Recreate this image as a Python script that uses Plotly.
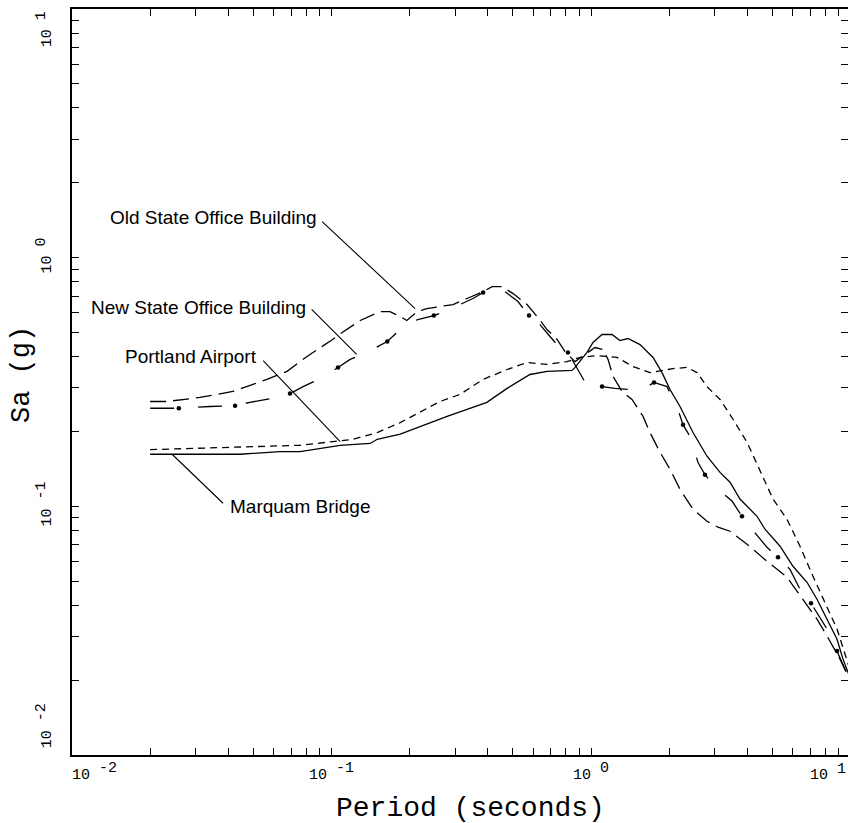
import numpy as np
import plotly.graph_objects as go

# ---------------- data ----------------
marquam_period = [0.020, 0.0444, 0.0633, 0.0756, 0.108, 0.141, 0.150, 0.184, 0.279, 0.333, 0.397, 0.475,
                  0.582, 0.677, 0.845, 0.868, 0.965, 1.018, 1.103, 1.205, 1.293, 1.388, 1.545, 1.734,
                  1.878, 2.016, 2.203, 2.473, 2.799, 3.142, 3.433, 3.751, 4.362, 4.683, 5.350, 6.003,
                  6.798, 7.428, 8.118, 8.873, 9.357, 10.0]
marquam_sa = [0.162, 0.162, 0.166, 0.166, 0.176, 0.179, 0.186, 0.195, 0.230, 0.245, 0.262, 0.298,
              0.339, 0.349, 0.352, 0.362, 0.416, 0.456, 0.491, 0.491, 0.464, 0.473, 0.447, 0.397,
              0.345, 0.295, 0.252, 0.198, 0.159, 0.137, 0.125, 0.107, 0.0912, 0.0809, 0.0691, 0.0574,
              0.0495, 0.0423, 0.0352, 0.0292, 0.0243, 0.0202]

portland_period = [0.020, 0.0444, 0.0756, 0.101, 0.121, 0.150, 0.184, 0.201, 0.262, 0.313, 0.384, 0.475,
                   0.567, 0.677, 0.808, 0.907, 1.055, 1.259, 1.452, 1.688, 2.070, 2.344, 2.562, 2.799,
                   3.142, 3.525, 3.992, 4.362, 5.027, 5.692, 6.388, 7.169, 8.118, 8.873, 10.0]
portland_sa = [0.169, 0.173, 0.176, 0.182, 0.186, 0.198, 0.217, 0.228, 0.264, 0.282, 0.324, 0.355,
               0.379, 0.372, 0.382, 0.397, 0.404, 0.397, 0.365, 0.345, 0.358, 0.362, 0.345, 0.303,
               0.269, 0.224, 0.181, 0.148, 0.107, 0.0887, 0.0691, 0.0523, 0.0397, 0.0321, 0.0217]

old_state_period = [0.020, 0.0232, 0.0311, 0.0417, 0.0564, 0.0674, 0.0756, 0.0826, 0.101, 0.111, 0.129,
                    0.154, 0.168, 0.184, 0.195, 0.214, 0.233, 0.262, 0.294, 0.333, 0.384, 0.416, 0.454,
                    0.501, 0.567, 0.625, 0.677, 0.740, 0.794, 0.868, 0.948, 1.036, 1.112, 1.163, 1.216,
                    1.316, 1.439, 1.587, 1.688, 1.845, 2.016, 2.203, 2.473, 2.799, 3.086, 3.433, 3.992,
                    4.767, 5.692, 6.561, 7.428, 8.118, 9.111, 10.0]
old_state_sa = [0.264, 0.264, 0.274, 0.290, 0.324, 0.349, 0.382, 0.408, 0.469, 0.504, 0.559,
                0.607, 0.607, 0.580, 0.559, 0.607, 0.624, 0.636, 0.648, 0.685, 0.730, 0.765, 0.765,
                0.717, 0.648, 0.574, 0.514, 0.469, 0.419, 0.382, 0.408, 0.435, 0.427, 0.390, 0.333,
                0.290, 0.269, 0.230, 0.198, 0.165, 0.141, 0.117, 0.0973, 0.0871, 0.0824, 0.0794, 0.0704,
                0.0601, 0.0519, 0.0423, 0.0352, 0.0301, 0.0243, 0.0198]

new_state_period = [0.020, 0.0258, 0.0340, 0.0425, 0.0485, 0.0617, 0.0692, 0.0777, 0.0927, 0.106, 0.118,
                    0.137, 0.164, 0.184, 0.215, 0.248, 0.279, 0.313, 0.351, 0.384, 0.427, 0.466, 0.523,
                    0.577, 0.636, 0.695, 0.740, 0.815, 0.891, 0.974, 1.103, 1.237, 1.413, 1.545, 1.749,
                    1.963, 2.164, 2.262, 2.407, 2.585, 2.750, 3.005, 3.494, 3.818, 4.173, 4.767, 5.256,
                    5.846, 6.388, 7.043, 8.118, 8.873, 10.0]
new_state_sa = [0.248, 0.248, 0.252, 0.254, 0.262, 0.274, 0.284, 0.303, 0.330, 0.362, 0.390,
                0.416, 0.460, 0.514, 0.564, 0.585, 0.613, 0.648, 0.685, 0.724, 0.751, 0.730, 0.666,
                0.585, 0.538, 0.482, 0.447, 0.416, 0.355, 0.301, 0.303, 0.298, 0.295, 0.290, 0.315,
                0.303, 0.245, 0.213, 0.191, 0.150, 0.134, 0.120, 0.105, 0.0912, 0.0809, 0.0684, 0.0624,
                0.0558, 0.0464, 0.0408, 0.0321, 0.0262, 0.0198]
# dot symbols of the New State dash-dot curve
new_state_dot_period = [0.0258, 0.0425, 0.0692, 0.106, 0.164, 0.248, 0.384, 0.577, 0.815, 1.103,
                        1.749, 2.262, 2.750, 3.818, 5.256, 7.043, 8.873]
new_state_dot_sa = [0.248, 0.254, 0.284, 0.362, 0.460, 0.585, 0.724, 0.585, 0.416, 0.303,
                    0.315, 0.213, 0.134, 0.0912, 0.0624, 0.0408, 0.0262]

# label texts and the curve points their leaders touch
label_texts = ["Old State Office Building", "New State Office Building", "Portland Airport", "Marquam Bridge"]
leader_period = [0.210, 0.125, 0.108, 0.0243]
leader_sa = [0.624, 0.408, 0.182, 0.162]

x_decades = [-2, -1, 0]
y_decades = [-2, -1, 0]

# ---------------- layout constants ----------------
W, H = 848, 823
ML, MR, MT, MB = 72, 0, 9, 68
PX_PER_DECADE_X = 259.5
PX_PER_DECADE_Y = (H - MT - MB) / 3.0
x_hi = -2 + (W - ML - MR) / PX_PER_DECADE_X

LINE = dict(color="black", width=1.3)
TICKFONT = dict(family="Liberation Mono, DejaVu Sans Mono, monospace", size=15, color="black")
NB = "\u00a0"


def dec_label(n, pre=0, post=0):
    return NB * pre + "10" + NB + f"<sup><span style='font-size:15px'>{n}</span></sup>" + NB * post


fig = go.Figure()
fig.add_trace(go.Scatter(x=marquam_period, y=marquam_sa, mode="lines",
                         line=dict(LINE, dash="solid"), name="Marquam Bridge"))
fig.add_trace(go.Scatter(x=portland_period, y=portland_sa, mode="lines",
                         line=dict(LINE, dash="7px,5px"), name="Portland Airport"))
fig.add_trace(go.Scatter(x=old_state_period, y=old_state_sa, mode="lines",
                         line=dict(LINE, dash="16px,7px"), name="Old State Office Building"))
fig.add_trace(go.Scatter(x=new_state_period, y=new_state_sa, mode="lines",
                         line=dict(LINE, dash="24px,24px"), name="New State Office Building"))
fig.add_trace(go.Scatter(x=new_state_dot_period, y=new_state_dot_sa, mode="markers",
                         marker=dict(color="black", size=4.5), showlegend=False))

# ticks
x_tickvals, x_ticktext = [], []
for n in x_decades:
    for k in range(1, 10):
        x_tickvals.append(k * 10.0 ** n)
        if k == 1:
            x_ticktext.append(dec_label(n, pre=5 if n == -2 else 0))
        else:
            x_ticktext.append("")

y_tickvals, y_ticktext = [], []
for n in y_decades:
    for k in range(1, 10):
        y_tickvals.append(k * 10.0 ** n)
        if k == 1:
            y_ticktext.append(dec_label(n, pre=6 if n == -2 else 0))
        else:
            y_ticktext.append("")
y_tickvals.append(10.0)
y_ticktext.append(dec_label(1, post=5))

axis_common = dict(type="log", showgrid=False, zeroline=False, showline=True, linecolor="black",
                   linewidth=1.5, mirror="ticks", ticks="inside", ticklen=7, tickwidth=1.2,
                   tickcolor="black", tickfont=TICKFONT, tickmode="array", ticklabeloverflow="allow")

fig.update_xaxes(axis_common, range=[-2, x_hi], tickvals=x_tickvals, ticktext=x_ticktext,
                 ticklabelstandoff=4)
fig.update_yaxes(axis_common, range=[-2, 1], tickvals=y_tickvals, ticktext=y_ticktext,
                 tickangle=-90, ticklabelstandoff=13)

# leaders: pixel offsets (right, down) from the touched curve point to the label end
leader_dx = [-93, -45, -77, 51]
leader_dy = [-87, -45, -81, 49]
text_xshift = [-3, -4, -4, 5]
text_yshift = [4, 2, 4, -3]
text_anchor = ["right", "right", "right", "left"]
LABELFONT = dict(family="Liberation Sans, Arial, sans-serif", size=19, color="black")
for i, txt in enumerate(label_texts):
    end_period = leader_period[i] * 10 ** (leader_dx[i] / PX_PER_DECADE_X)
    end_sa = leader_sa[i] * 10 ** (-leader_dy[i] / PX_PER_DECADE_Y)
    fig.add_shape(type="line", xref="x", yref="y",
                  x0=leader_period[i], y0=leader_sa[i], x1=end_period, y1=end_sa,
                  line=dict(color="black", width=1.1))
    fig.add_annotation(x=np.log10(end_period), y=np.log10(end_sa), xref="x", yref="y",
                       text=txt, showarrow=False, xanchor=text_anchor[i], yanchor="middle",
                       xshift=text_xshift[i], yshift=text_yshift[i], font=LABELFONT)

# 10^1 label at the clipped right end of the period axis
fig.add_annotation(x=1, y=0, xref="paper", yref="paper", xanchor="right", yanchor="top",
                   yshift=-4, text=dec_label(1), showarrow=False, font=TICKFONT)

# axis titles
fig.add_annotation(x=(471 - ML) / (W - ML - MR), y=-(808 - (H - MB)) / (H - MT - MB),
                   xref="paper", yref="paper", text="Period (seconds)", showarrow=False,
                   xanchor="center", yanchor="middle",
                   font=dict(family="Liberation Mono, DejaVu Sans Mono, monospace", size=28, color="black"))
fig.add_annotation(x=(22 - ML) / (W - ML - MR), y=((H - MB) - 375) / (H - MT - MB),
                   xref="paper", yref="paper", text="Sa (g)", showarrow=False, textangle=-90,
                   xanchor="center", yanchor="middle",
                   font=dict(family="Liberation Mono, DejaVu Sans Mono, monospace", size=27, color="black"))

fig.update_layout(width=W, height=H, margin=dict(l=ML, r=MR, t=MT, b=MB, autoexpand=False),
                  paper_bgcolor="white", plot_bgcolor="white", showlegend=False)

fig.write_html("out.html")
